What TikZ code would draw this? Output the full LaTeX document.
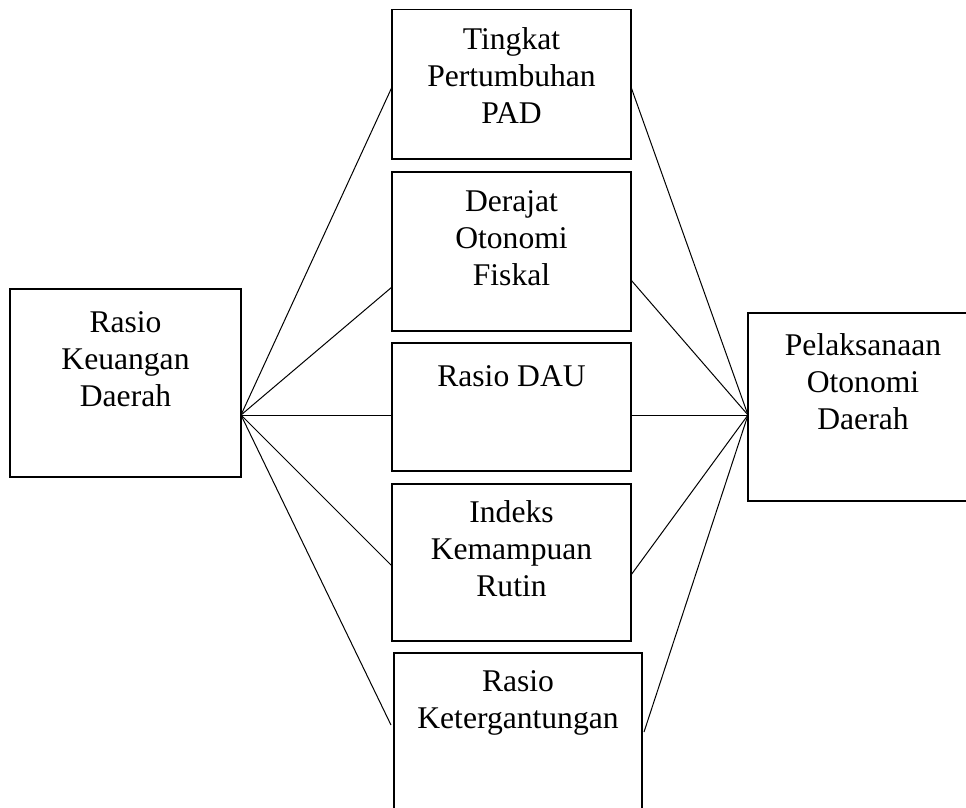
\documentclass[tikz,border=0pt]{standalone}
\usepackage{fontspec}
\setmainfont{Liberation Serif}
\newcommand{\bxtext}[4]{\parbox[t][#2pt][t]{#1pt}{\centering\rule{0pt}{#3pt}#4}}
\tikzset{
  boxnode/.style={draw, line width=1.3pt, inner sep=0pt, outer sep=0pt, anchor=north west},
  conn/.style={line width=1pt},
  every node/.style={font=\fontsize{31.6}{37}\selectfont}
}
\begin{document}
\begin{tikzpicture}[x=1pt,y=-1pt]
\clip (0,0) rectangle (966,807);
\fill[white] (0,0) rectangle (966,807);
\node[boxnode] (L)  at (10,289)  {\bxtext{231}{188}{43}{Rasio\\Keuangan\\Daerah}};
\node[boxnode] (b1) at (392,9.5) {\bxtext{239}{149.5}{39.5}{Tingkat\\Pertumbuhan\\PAD}};
\node[boxnode] (b2) at (392,172) {\bxtext{239}{159}{39}{Derajat\\Otonomi\\Fiskal}};
\node[boxnode] (b3) at (392,343) {\bxtext{239}{128}{43}{Rasio DAU}};
\node[boxnode] (b4) at (392,484) {\bxtext{239}{157}{38}{Indeks\\Kemampuan\\Rutin}};
\node[boxnode] (b5) at (394,653) {\bxtext{248}{180}{38}{Rasio\\Ketergantungan}};
\node[boxnode] (R)  at (748,313) {\bxtext{260}{188}{42}{\hspace*{-30pt}Pelaksanaan\\\hspace*{-30pt}Otonomi\\\hspace*{-30pt}Daerah}};
\coordinate (cl) at (L.east |- 0,415);
\coordinate (cr) at (R.west |- 0,415);
\draw[conn] (cl) -- (b1.west |- 0,87);
\draw[conn] (cl) -- (b2.west |- 0,287);
\draw[conn] (cl) -- (b3.west |- 0,415);
\draw[conn] (cl) -- (b4.west |- 0,566);
\draw[conn] (cl) -- ([xshift=-3pt]b5.west |- 0,725);
\draw[conn] (b1.east |- 0,87) -- (cr);
\draw[conn] (b2.east |- 0,280) -- (cr);
\draw[conn] (b3.east |- 0,415) -- (cr);
\draw[conn] (b4.east |- 0,575) -- (cr);
\draw[conn] ([xshift=2pt]b5.east |- 0,732) -- (cr);
\end{tikzpicture}
\end{document}
